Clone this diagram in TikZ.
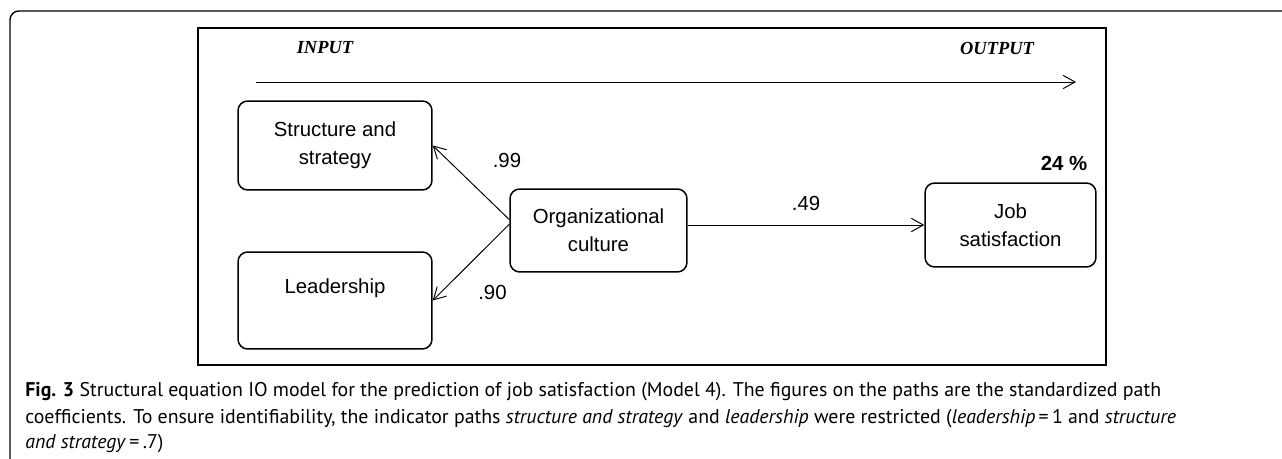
\documentclass[tikz,border=0pt]{standalone}
\usepackage{fontspec}
\setmainfont{Liberation Sans}
\newfontfamily\capfont{PT Sans}
\newfontfamily\ioserif{Liberation Serif}
\usetikzlibrary{arrows.meta,positioning}

\begin{document}
\begin{tikzpicture}[
    x=0.02cm, y=-0.02cm,
    box/.style={draw, rounded corners=5.5pt, line width=0.85pt, minimum width=3.88cm, minimum height=1.78cm, align=center, font=\fontsize{11.6}{15.9}\selectfont},
    arr/.style={-{Straight Barb[length=6.8pt, width=7.6pt]}, line width=0.55pt},
    lbl/.style={font=\fontsize{11.6}{14}\selectfont, inner sep=1pt},
    io/.style={font=\ioserif\bfseries\itshape\fontsize{10.5}{12}\selectfont},
    capline/.style={font=\capfont\fontsize{11.3}{13}\selectfont, anchor=base west, inner sep=0pt}
]
\useasboundingbox (0,0) rectangle (1282,459);

% frames
\draw[line width=0.8pt, rounded corners=5pt] (1300,11) -- (10,11) -- (10,480);
\draw[line width=0.6pt] (198,28) rectangle (1106,365);

% input -> output
\node[io] (inp) at (325,48) {INPUT};
\node[io] (outp) at (997,48) {OUTPUT};
\coordinate (flowL) at (256,82);
\coordinate (flowR) at (1076,82);
\draw[arr] (flowL) -- (flowR);

% model
\node[box] (str) at (335,145.5) {Structure and\\strategy};
\node[box, minimum height=1.94cm] (lead) at (335,300.5) {Leadership\\\mbox{}};
\node[box, minimum width=3.54cm, minimum height=1.66cm] (org) at (598.5,230.5) {Organizational\\culture};
\node[box, minimum width=3.42cm, minimum height=1.68cm] (job) at (1010.5,225) {Job\\satisfaction};
\node[lbl, font=\bfseries\fontsize{11.6}{14}\selectfont] (rsq) at (1064,163) {24 \%};

\draw[arr] (org.173) -- node[lbl, xshift=0.72cm, yshift=0.44cm] (p99) {.99} (str.east);
\draw[arr] (org.176) -- node[lbl, xshift=0.43cm, yshift=-0.61cm] (p90) {.90} (lead.east);
\draw[arr] (org.east |- job.west) -- node[lbl, yshift=0.44cm] (p49) {.49} (job.west);

% caption
\node[capline] (cap1) at (25,397) {\textbf{Fig. 3} Structural equation IO model for the prediction of job satisfaction (Model 4). The figures on the paths are the standardized path};
\node[capline] (cap2) at (25,423) {coefficients. To ensure identifiability, the indicator paths \textit{structure and strategy} and \textit{leadership} were restricted (\textit{leadership}\,=\,1 and \textit{structure}};
\node[capline] (cap3) at (25,448) {\textit{and strategy}\,=\,.7)};
\end{tikzpicture}
\end{document}
